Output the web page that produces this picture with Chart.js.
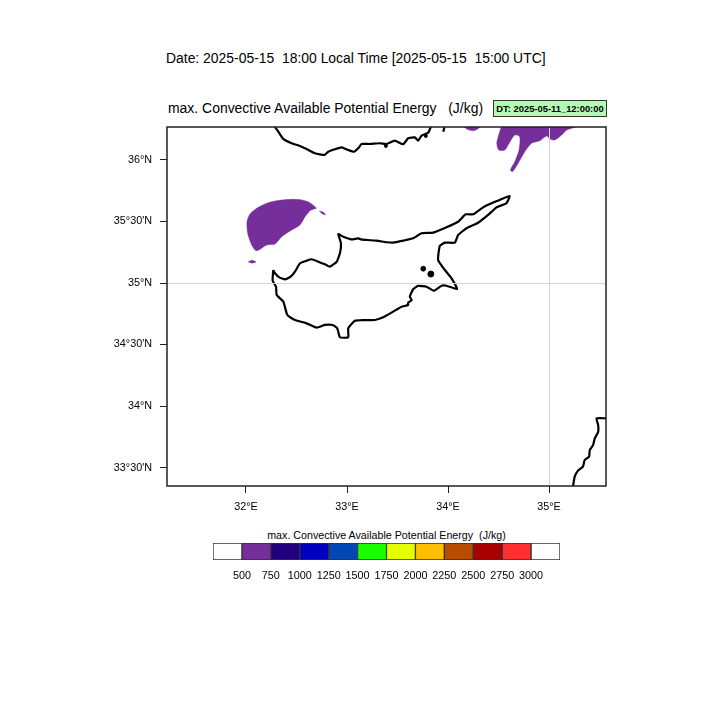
<!DOCTYPE html>
<html>
<head>
<meta charset="utf-8">
<script src="https://cdn.jsdelivr.net/npm/chart.js@4"></script>
<style>
  body { margin: 0; background: #fff; width: 720px; height: 720px; position: relative; overflow: hidden;
         font-family: "Liberation Sans", sans-serif; color: #000; }
  canvas { position: absolute; left: 0; }
  .txt { position: absolute; white-space: pre; line-height: 1; }
  #dateTitle { left: 166px; top: 52px; font-size: 13.92px; }
  #mainTitle { left: 168px; top: 102px; font-size: 13.95px; }
  #dtBox { left: 493px; top: 100px; width: 112px; height: 15px; line-height: 15px; text-align: center; font-size: 9.4px;
           font-weight: bold; background: #b5f7b5; border: 1px solid #333; box-sizing: content-box; }
  #cbarTitle { left: 213px; width: 347px; top: 530px; font-size: 10.7px; text-align: center; }
</style>
</head>
<body>
<div class="txt" id="dateTitle">Date: 2025-05-15  18:00 Local Time [2025-05-15  15:00 UTC]</div>
<div class="txt" id="mainTitle">max. Convective Available Potential Energy   (J/kg)</div>
<div class="txt" id="dtBox">DT: 2025-05-11_12:00:00</div>
<div class="txt" id="cbarTitle">max. Convective Available Potential Energy  (J/kg)</div>
<canvas id="mapa" width="720" height="520" style="top:0"></canvas>
<canvas id="barra" width="720" height="50" style="top:540px"></canvas>
<script>
const lonTicks = [32, 33, 34, 35];
const lonLabels = ["32°E", "33°E", "34°E", "35°E"];
const latTicks = [33.5, 34, 34.5, 35, 35.5, 36];
const latLabels = ["33°30'N", "34°N", "34°30'N", "35°N", "35°30'N", "36°N"];

const cbarLevels = [500, 750, 1000, 1250, 1500, 1750, 2000, 2250, 2500, 2750, 3000];
const cbarColors = ["#ffffff", "#762e9a", "#20007f", "#0000c0", "#0048b8", "#1aff00",
  "#e6ff00", "#ffbe00", "#b84c00", "#aa0000", "#ff3030", "#ffffff"];

// coast lines, [lon, lat]
const cyprusCoast = [
  [32.27,35.106],[32.287,35.079],[32.33,35.046],[32.386,35.03],[32.442,35.051],[32.485,35.092],
  [32.535,35.16],[32.6,35.181],[32.65,35.193],[32.716,35.173],[32.782,35.152],[32.83,35.133],
  [32.898,35.173],[32.93,35.241],[32.94,35.323],[32.914,35.398],[32.963,35.376],[33.046,35.355],
  [33.11,35.363],[33.15,35.352],[33.195,35.35],[33.293,35.344],[33.392,35.331],[33.457,35.328],[33.556,35.344],
  [33.655,35.363],[33.738,35.404],[33.853,35.409],[33.985,35.453],[34.1,35.498],[34.176,35.558],
  [34.249,35.558],[34.348,35.615],[34.43,35.648],[34.512,35.675],[34.61,35.707],[34.578,35.648],
  [34.48,35.615],[34.397,35.553],[34.298,35.49],[34.183,35.445],[34.1,35.39],[34.067,35.328],
  [33.968,35.328],[33.919,35.301],[33.902,35.187],[33.968,35.106],[34.035,35.038],[34.09,34.951],
  [33.985,34.978],[33.936,34.978],[33.86,34.937],[33.787,34.97],[33.704,34.976],[33.655,34.949],
  [33.622,34.889],[33.64,34.86],[33.605,34.84],[33.605,34.821],[33.54,34.807],[33.457,34.767],[33.358,34.721],[33.276,34.699],
  [33.16,34.699],[33.078,34.693],[33.012,34.632],[33.012,34.559],[32.93,34.559],[32.903,34.632],
  [32.858,34.659],[32.782,34.659],[32.7,34.637],[32.6,34.672],[32.485,34.699],[32.409,34.74],
  [32.37,34.848],[32.304,34.902],[32.297,34.97],[32.264,35.019],[32.27,35.106]
];
const turkeyCoast = [
  [32.28,36.276],[32.32,36.23],[32.369,36.171],[32.452,36.136],[32.534,36.114],[32.6,36.089],
  [32.682,36.054],[32.78,36.041],[32.814,36.067],[32.88,36.087],[32.947,36.103],[33.012,36.081],
  [33.068,36.067],[33.111,36.095],[33.144,36.13],[33.226,36.13],[33.325,36.136],[33.392,36.13],
  [33.474,36.157],[33.556,36.128],[33.605,36.176],[33.671,36.184],[33.705,36.157],[33.738,36.198],
  [33.804,36.222],[33.83,36.27]
];
const turkeyEast = [[33.953,36.23],[33.968,36.276]];
const levantCoast = [
  [35.565,33.9],[35.47,33.9],[35.486,33.846],[35.486,33.79],[35.453,33.737],[35.436,33.683],
  [35.403,33.642],[35.397,33.588],[35.353,33.561],[35.336,33.507],[35.287,33.475],[35.254,33.426],
  [35.237,33.343]
];
const islets = [[33.755,35.116],[33.83,35.073],[33.78,36.195],[33.385,36.114]];

// areas above 500 J/kg
const capeWest = [
  [32.7,35.607],[32.633,35.653],[32.551,35.675],[32.452,35.68],[32.304,35.669],[32.205,35.648],
  [32.106,35.607],[32.04,35.561],[32.01,35.498],[32.017,35.404],[32.056,35.309],[32.099,35.263],
  [32.139,35.274],[32.205,35.309],[32.287,35.317],[32.353,35.376],[32.452,35.431],[32.534,35.472],
  [32.584,35.539],[32.633,35.588]
];
const capeSmall1 = [[32.725,35.585],[32.765,35.575],[32.788,35.555],[32.75,35.563]];
const capeSmall2 = [[32.02,35.171],[32.056,35.184],[32.099,35.171],[32.056,35.16]];
const capeNorth1 = [[34.15,36.276],[34.19,36.25],[34.249,36.238],[34.298,36.254],[34.32,36.276]];
const capeNorth2 = [
  [34.53,36.276],[34.497,36.189],[34.483,36.136],[34.503,36.081],[34.562,36.081],[34.605,36.136],
  [34.661,36.203],[34.71,36.189],[34.703,36.081],[34.661,35.986],[34.618,35.919],[34.638,35.905],
  [34.693,35.972],[34.76,36.067],[34.827,36.136],[34.91,36.157],[34.976,36.195],[35.016,36.168],
  [35.059,36.163],[35.125,36.203],[35.175,36.244],[35.27,36.27],[35.27,36.276]
];

function pontos(lista) {
  return lista.map((p) => ({ x: p[0], y: p[1] }));
}

function area(lista) {
  return {
    data: pontos(lista),
    showLine: true,
    fill: "shape",
    tension: 0.25,
    backgroundColor: cbarColors[1],
    borderColor: cbarColors[1],
    borderWidth: 0.5,
    pointRadius: 0,
  };
}

function costa(lista) {
  return {
    data: pontos(lista),
    showLine: true,
    fill: false,
    tension: 0.15,
    borderColor: "#000",
    borderWidth: 2.2,
    borderJoinStyle: "round",
    pointRadius: 0,
  };
}

const moldura = {
  id: "moldura",
  afterDraw(chart) {
    const a = chart.chartArea;
    const ctx = chart.ctx;
    ctx.save();
    ctx.strokeStyle = "#222";
    ctx.lineWidth = 1.5;
    ctx.strokeRect(a.left, a.top, a.width, a.height);
    ctx.restore();
  },
};

const fonte = { family: "'Liberation Sans'", size: 10.8 };

new Chart(document.getElementById("mapa"), {
  type: "scatter",
  data: {
    datasets: [
      costa(cyprusCoast),
      costa(turkeyCoast),
      costa(turkeyEast),
      costa(levantCoast),
      { data: pontos(islets), backgroundColor: "#000", borderColor: "#000", pointRadius: [2.4, 3, 1.5, 1.5] },
      area(capeWest),
      area(capeSmall1),
      area(capeSmall2),
      area(capeNorth1),
      area(capeNorth2),
    ],
  },
  plugins: [moldura],
  options: {
    responsive: false,
    animation: false,
    devicePixelRatio: 1,
    layout: { padding: { top: 127, right: 114, left: 0, bottom: 0 } },
    plugins: { legend: { display: false }, tooltip: { enabled: false } },
    scales: {
      x: {
        type: "linear",
        min: 31.218,
        max: 35.564,
        afterBuildTicks(scale) { scale.ticks = lonTicks.map((v) => ({ value: v })); },
        afterFit(scale) { scale.height = 34; },
        grid: {
          z: 1,
          color: (c) => (c.tick && c.tick.value === 35 ? "#d4d4d4" : "rgba(0,0,0,0)"),
          tickColor: "#222",
          tickLength: 7,
          lineWidth: 1,
        },
        border: { display: false },
        ticks: {
          color: "#000",
          font: fonte,
          padding: 8,
          autoSkip: false,
          maxRotation: 0,
          callback: (v) => lonLabels[lonTicks.indexOf(v)],
        },
      },
      y: {
        type: "linear",
        min: 33.35,
        max: 36.268,
        afterBuildTicks(scale) { scale.ticks = latTicks.map((v) => ({ value: v })); },
        afterFit(scale) { scale.width = 167; },
        grid: {
          z: 1,
          color: (c) => (c.tick && c.tick.value === 35 ? "#d4d4d4" : "rgba(0,0,0,0)"),
          tickColor: "#222",
          tickLength: 7,
          lineWidth: 1,
        },
        border: { display: false },
        ticks: {
          color: "#000",
          font: fonte,
          padding: 8,
          autoSkip: false,
          callback: (v) => latLabels[latTicks.indexOf(v)],
        },
      },
    },
  },
});

new Chart(document.getElementById("barra"), {
  type: "bar",
  data: {
    labels: [""],
    datasets: cbarColors.map((cor) => ({
      data: [1],
      backgroundColor: cor,
      borderColor: "#333",
      borderWidth: 1,
      borderSkipped: false,
      barPercentage: 1,
      categoryPercentage: 1,
    })),
  },
  options: {
    indexAxis: "y",
    responsive: false,
    animation: false,
    devicePixelRatio: 1,
    layout: { padding: { top: 3, left: 213, right: 160, bottom: 0 } },
    plugins: { legend: { display: false }, tooltip: { enabled: false } },
    scales: {
      x: {
        stacked: true,
        min: 0,
        max: cbarColors.length,
        afterBuildTicks(scale) { scale.ticks = cbarLevels.map((v, i) => ({ value: i + 1 })); },
        afterFit(scale) { scale.height = 30; },
        grid: { display: false },
        border: { display: false },
        ticks: {
          color: "#000",
          font: fonte,
          padding: 2,
          autoSkip: false,
          maxRotation: 0,
          callback: (v) => cbarLevels[v - 1],
        },
      },
      y: { stacked: true, display: false },
    },
  },
});
</script>
</body>
</html>
